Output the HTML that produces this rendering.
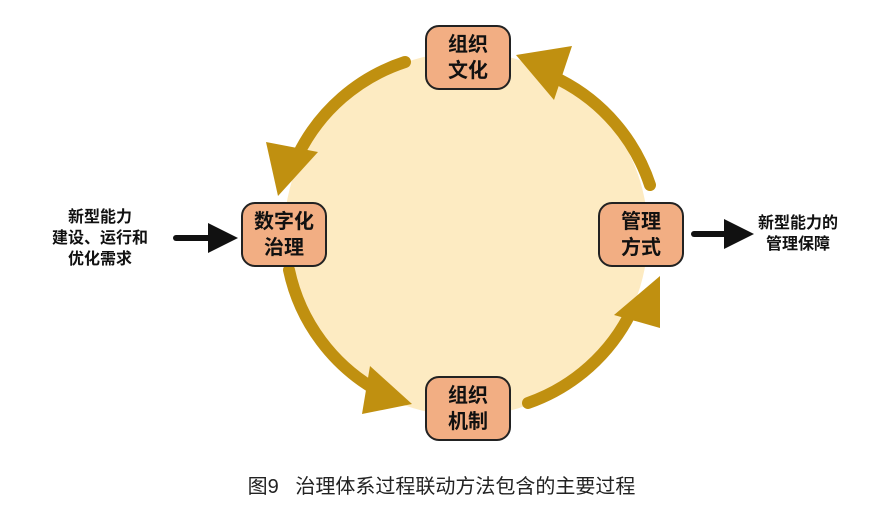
<!DOCTYPE html>
<html><head><meta charset="utf-8"><style>
body{margin:0;background:#fff;width:883px;height:516px;overflow:hidden;font-family:"Liberation Sans","Noto Sans CJK SC",sans-serif}
.b{position:absolute;width:86px;height:65px;background:#F2AE83;border:2px solid #222;border-radius:14px;box-sizing:border-box;display:flex;align-items:center;justify-content:center;text-align:center;font-weight:bold;font-size:20px;line-height:26px;color:#111}
.t{position:absolute;font-weight:bold;font-size:16px;line-height:21px;text-align:center;color:#111}
</style></head><body>
<svg width="883" height="516" style="position:absolute;left:0;top:0">
<circle cx="466" cy="234" r="182" fill="#FDEBC2"/>
<g fill="none" stroke="#C09010" stroke-width="12" stroke-linecap="round">
<path d="M405 62 A182 182 0 0 0 298 155"/>
<path d="M289 270 A182 182 0 0 0 380 392"/>
<path d="M528 403 A182 182 0 0 0 632 310"/>
<path d="M650 185 A182 182 0 0 0 560 80"/>
</g>
<g fill="#C09010">
<polygon points="266,142 318,152 278,196"/>
<polygon points="370,366 412,404 362,414"/>
<polygon points="614,315 660,276 660,328"/>
<polygon points="572,46 516,55 554,100"/>
</g>
<g stroke="#111" stroke-width="6" stroke-linecap="round"><line x1="176" y1="238" x2="212" y2="238"/><line x1="694" y1="234" x2="728" y2="234"/></g>
<polygon points="208,223 238,238 208,253" fill="#111"/>
<polygon points="724,219 754,234 724,249" fill="#111"/>
</svg>
<div class="b" style="left:425px;top:25px">组织<br>文化</div>
<div class="b" style="left:241px;top:202px">数字化<br>治理</div>
<div class="b" style="left:598px;top:202px">管理<br>方式</div>
<div class="b" style="left:425px;top:376px">组织<br>机制</div>
<div class="t" style="left:35px;top:207px;width:130px">新型能力<br>建设、运行和<br>优化需求</div>
<div class="t" style="left:745px;top:213px;width:106px">新型能力的<br>管理保障</div>
<div style="position:absolute;left:0;width:883px;top:470px;text-align:center;font-size:20px;color:#222">图9&nbsp;&nbsp;&nbsp;治理体系过程联动方法包含的主要过程</div>
</body></html>
